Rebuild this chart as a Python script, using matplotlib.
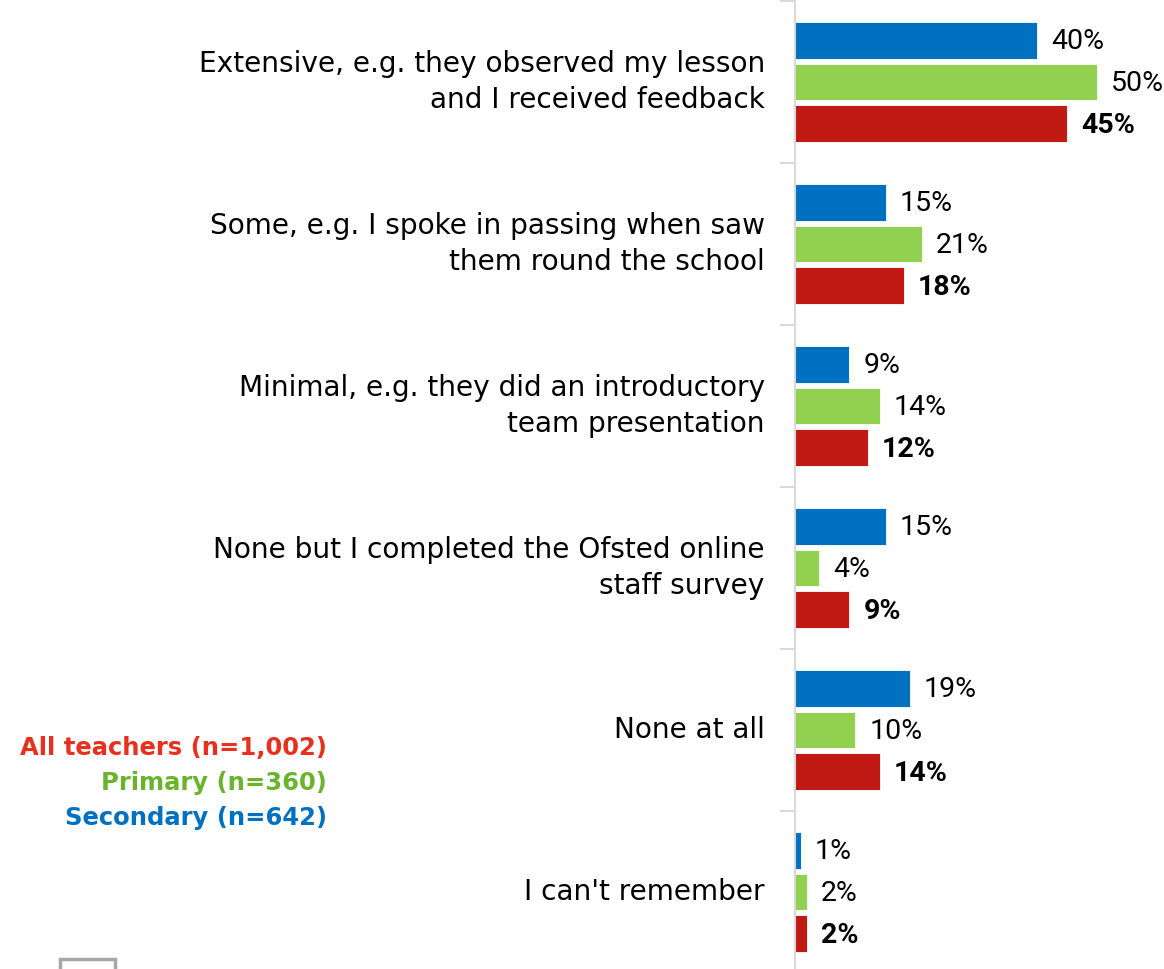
import numpy as np
import matplotlib.pyplot as plt
from matplotlib.patches import Rectangle

categories = [
    "Extensive, e.g. they observed my lesson\nand I received feedback",
    "Some, e.g. I spoke in passing when saw\nthem round the school",
    "Minimal, e.g. they did an introductory\nteam presentation",
    "None but I completed the Ofsted online\nstaff survey",
    "None at all",
    "I can't remember",
]
secondary = [40, 15, 9, 15, 19, 1]
primary = [50, 21, 14, 4, 10, 2]
all_teachers = [45, 18, 12, 9, 14, 2]

series = [
    ("Secondary (n=642)", secondary, "#0070C0", "normal"),
    ("Primary (n=360)", primary, "#92D050", "normal"),
    ("All teachers (n=1,002)", all_teachers, "#C11914", "bold"),
]

value_font = ["Roboto", "DejaVu Sans"]

fig = plt.figure(figsize=(11.64, 9.69), dpi=100)
ax = fig.add_axes([795 / 1164, -4 / 969, 369 / 1164, 972 / 969])

y = np.arange(len(categories))
bar_h = 0.228
offset = 0.259
for i, (name, vals, color, weight) in enumerate(series):
    pos = y + (i - 1) * offset
    ax.barh(pos, vals, height=bar_h, color=color, edgecolor="white", linewidth=0.6)
    for p, v in zip(pos, vals):
        ax.text(v + 2.3, p + 0.01, f"{v}%", va="center", ha="left",
                fontsize=20.5, fontweight=weight, color="black",
                family=value_font)

ax.set_xlim(0, 61)
ax.set_ylim(len(categories) - 0.5, -0.5)

# group separators as ticks on the left spine
ax.set_yticks(np.arange(len(categories) + 1) - 0.5)
ax.set_yticklabels([])
ax.tick_params(axis="y", length=11, width=1.5, color="#D9D9D9", direction="out")
ax.set_xticks([])
for s in ["top", "right", "bottom"]:
    ax.spines[s].set_visible(False)
ax.spines["left"].set_color("#D9D9D9")
ax.spines["left"].set_linewidth(1.5)

for yi, label in zip(y, categories):
    ax.text(-5.0, yi, label, ha="right", va="center", fontsize=20.2,
            color="black", linespacing=1.4, transform=ax.transData)

# legend as coloured text block
legend_items = [
    ("All teachers (n=1,002)", "#E8301E", 748),
    ("Primary (n=360)", "#6AB42D", 783),
    ("Secondary (n=642)", "#0070C0", 818),
]
for text, color, ypx in legend_items:
    fig.text(327 / 1164, 1 - ypx / 969, text, ha="right", va="center",
             fontsize=17.5, fontweight="bold", color=color)

# partially visible legend box at the bottom edge
fig.patches.append(Rectangle((60 / 1164, -20 / 969), 55 / 1164, 30 / 969,
                             transform=fig.transFigure, fill=False,
                             edgecolor="#A6A6A6", linewidth=2.5))

fig.savefig("out.png", dpi=100)
